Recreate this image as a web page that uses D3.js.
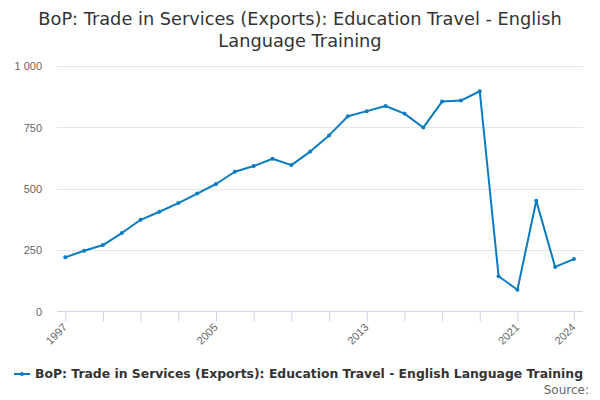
<!DOCTYPE html>
<html>
<head>
<meta charset="utf-8">
<script src="https://cdn.jsdelivr.net/npm/d3@7"></script>
<style>
  body { margin: 0; background: #fff; }
  svg { font-family: "DejaVu Sans", Verdana, sans-serif; }
</style>
</head>
<body>
<div id="chart"></div>
<script>
// Data
const years = [1997, 1998, 1999, 2000, 2001, 2002, 2003, 2004, 2005, 2006, 2007, 2008, 2009, 2010,
  2011, 2012, 2013, 2014, 2015, 2016, 2017, 2018, 2019, 2020, 2021, 2022, 2023, 2024];
const exportsValues = [220, 247, 270, 319, 373, 406, 441, 480, 519, 569, 592, 622, 596, 651,
  717, 795, 816, 837, 806, 749, 855, 859, 897, 143, 88, 451, 181, 213];
const xTicks = [1997, 1999, 2001, 2003, 2005, 2007, 2009, 2011, 2013, 2015, 2017, 2019, 2021, 2024];
const xLabels = [1997, 2005, 2013, 2021, 2024];
const yTicks = [0, 250, 500, 750, 1000];
const seriesName = 'BoP: Trade in Services (Exports): Education Travel - English Language Training';
const titleLines = ['BoP: Trade in Services (Exports): Education Travel - English', 'Language Training'];

const width = 600, height = 400;
const margin = { top: 66, right: 17, bottom: 89, left: 57 };
const color = '#0a7bc2';

const svg = d3.select('#chart').append('svg')
  .attr('width', width)
  .attr('height', height);

// Titulo
svg.append('text')
  .attr('x', width / 2)
  .attr('y', 25)
  .attr('text-anchor', 'middle')
  .style('font-size', '17.75px')
  .style('fill', '#333')
  .selectAll('tspan')
  .data(titleLines)
  .enter().append('tspan')
  .attr('x', width / 2)
  .attr('dy', (d, i) => i === 0 ? 0 : 22)
  .text(d => d);

const x = d3.scaleLinear()
  .domain([1996.56, 2024.48])
  .range([margin.left, width - margin.right]);

const y = d3.scaleLinear()
  .domain([0, 1000])
  .range([height - margin.bottom + 0.3, margin.top]);

// Grid
svg.append('g')
  .selectAll('line')
  .data(yTicks.filter(d => d > 0))
  .enter().append('line')
  .attr('x1', margin.left)
  .attr('x2', width - margin.right)
  .attr('y1', d => Math.round(y(d)) + 0.5)
  .attr('y2', d => Math.round(y(d)) + 0.5)
  .attr('stroke', '#e6e6e6');

// Eje Y
const yAxis = svg.append('g')
  .attr('transform', `translate(${margin.left - 15},0)`)
  .call(d3.axisLeft(y).tickValues(yTicks).tickSize(0)
    .tickFormat(d => d3.format(',')(d).replace(/,/g, ' ')));
yAxis.select('.domain').remove();
yAxis.selectAll('text')
  .style('font-size', '11px')
  .style('fill', '#666')
  .attr('x', 0)
  .attr('dy', '0.35em');

// Eje X
const xAxis = svg.append('g')
  .attr('transform', `translate(0,${Math.round(y(0)) + 0.5})`)
  .call(d3.axisBottom(x).tickValues(xTicks).tickSize(10)
    .tickFormat(d => xLabels.includes(d) ? d : ''));
xAxis.select('.domain')
  .attr('d', `M${margin.left},0H${width - margin.right}`)
  .attr('stroke', '#ccd6eb');
xAxis.selectAll('.tick line').attr('stroke', '#ccd6eb');
xAxis.selectAll('.tick text')
  .style('font-size', '11px')
  .style('fill', '#666')
  .style('text-anchor', 'end')
  .attr('dy', null)
  .attr('y', 0)
  .attr('transform', 'translate(2,16.5) rotate(-45)');

// Linea
const points = years.map((yr, i) => ({ year: yr, value: exportsValues[i] }));
svg.append('path')
  .datum(points)
  .attr('fill', 'none')
  .attr('stroke', color)
  .attr('stroke-width', 2)
  .attr('stroke-linejoin', 'round')
  .attr('d', d3.line().x(d => x(d.year)).y(d => y(d.value)));

svg.append('g')
  .selectAll('circle')
  .data(points)
  .enter().append('circle')
  .attr('cx', d => x(d.year))
  .attr('cy', d => y(d.value))
  .attr('r', 2)
  .attr('fill', color);

// Leyenda
const legend = svg.append('g').attr('transform', 'translate(0,374)');
legend.append('line')
  .attr('x1', 14).attr('x2', 30)
  .attr('y1', 0).attr('y2', 0)
  .attr('stroke', color).attr('stroke-width', 2);
legend.append('circle')
  .attr('cx', 22).attr('cy', 0).attr('r', 2).attr('fill', color);
legend.append('text')
  .attr('x', 35)
  .attr('y', 4.3)
  .style('font-size', '12.4px')
  .style('font-weight', 'bold')
  .style('fill', '#333')
  .text(seriesName);

svg.append('text')
  .attr('x', 589)
  .attr('y', 394)
  .attr('text-anchor', 'end')
  .style('font-size', '12px')
  .style('fill', '#666')
  .text('Source:');
</script>
</body>
</html>
